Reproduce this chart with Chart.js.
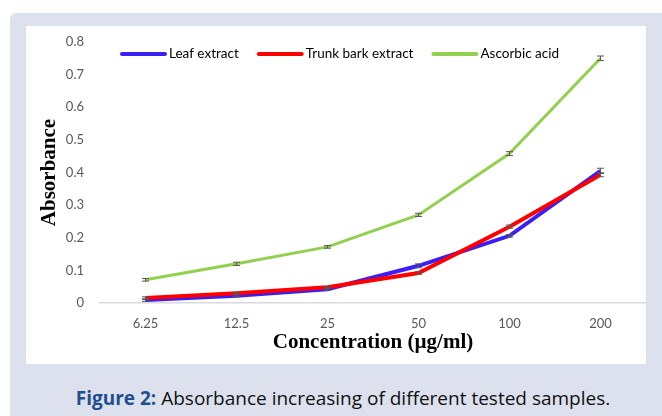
<!DOCTYPE html>
<html>
<head>
<meta charset="utf-8">
<script src="https://cdn.jsdelivr.net/npm/chart.js@4"></script>
<style>
  body { margin: 0; background: #fff; width: 662px; height: 416px; overflow: hidden; position: relative; }
  .panel { position: absolute; left: 10px; top: 13px; width: 680px; height: 420px; background: #dde1ee; border-radius: 6px; }
  .box { position: absolute; left: 26px; top: 26px; width: 620px; height: 338px; background: #fff; }
  .caption { position: absolute; left: 17px; width: 652px; top: 385px; line-height: 26px; text-align: center; font-family: "Open Sans", sans-serif; font-size: 19px; color: #111; }
  .caption b { color: #1f4f8f; }
</style>
</head>
<body>
<div class="panel"></div>
<div class="box"><canvas id="myChart" width="620" height="338"></canvas></div>
<div class="caption"><b>Figure 2:</b> Absorbance increasing of different tested samples.</div>
<script>
const concentrations = ['6.25', '12.5', '25', '50', '100', '200'];
const leafExtract = [0.009, 0.022, 0.042, 0.114, 0.206, 0.405];
const trunkBark = [0.015, 0.030, 0.048, 0.092, 0.234, 0.393];
const ascorbicAcid = [0.071, 0.120, 0.172, 0.270, 0.458, 0.750];
const leafErr = [0.004, 0.003, 0.003, 0.006, 0.004, 0.008];
const trunkErr = [0.004, 0.003, 0.003, 0.004, 0.005, 0.006];
const ascorbicErr = [0.004, 0.005, 0.004, 0.005, 0.006, 0.007];

// error bars on top of the lines
const errorBars = {
    id: 'errorBars',
    afterDatasetsDraw(chart) {
        const ctx = chart.ctx;
        const y = chart.scales.y;
        ctx.save();
        ctx.strokeStyle = '#595959';
        ctx.lineWidth = 1;
        chart.data.datasets.forEach((ds, i) => {
            const meta = chart.getDatasetMeta(i);
            meta.data.forEach((pt, j) => {
                const top = y.getPixelForValue(ds.data[j] + ds.err[j]);
                const bot = y.getPixelForValue(ds.data[j] - ds.err[j]);
                ctx.beginPath();
                ctx.moveTo(pt.x, top); ctx.lineTo(pt.x, bot);
                ctx.moveTo(pt.x - 3.5, top); ctx.lineTo(pt.x + 3.5, top);
                ctx.moveTo(pt.x - 3.5, bot); ctx.lineTo(pt.x + 3.5, bot);
                ctx.stroke();
            });
        });
        ctx.restore();
    }
};

// legend drawn inside the plot, like the original
const lineLegend = {
    id: 'lineLegend',
    afterDraw(chart) {
        const ctx = chart.ctx;
        let x = 96;
        const yMid = 28;
        ctx.save();
        ctx.font = '13.5px Lato';
        ctx.textBaseline = 'middle';
        chart.data.datasets.forEach((ds) => {
            ctx.strokeStyle = ds.borderColor;
            ctx.lineWidth = 4;
            ctx.lineCap = 'round';
            ctx.beginPath();
            ctx.moveTo(x, yMid); ctx.lineTo(x + 43, yMid);
            ctx.stroke();
            ctx.fillStyle = '#000';
            ctx.fillText(ds.label, x + 47, yMid);
            x += 47 + ctx.measureText(ds.label).width + 20;
        });
        ctx.restore();
    }
};

const data = {
    labels: concentrations,
    datasets: [
        { label: 'Leaf extract', data: leafExtract, err: leafErr, borderColor: '#3a1ef5', borderWidth: 4, order: 3 },
        { label: 'Trunk bark extract', data: trunkBark, err: trunkErr, borderColor: '#ff0000', borderWidth: 4, order: 2 },
        { label: 'Ascorbic acid', data: ascorbicAcid, err: ascorbicErr, borderColor: '#92d050', borderWidth: 3, order: 1 }
    ]
};

const config = {
    type: 'line',
    data: data,
    plugins: [errorBars, lineLegend],
    options: {
        responsive: false,
        animation: false,
        elements: { point: { radius: 0 }, line: { tension: 0 } },
        layout: { padding: { top: 16, right: 0, left: 0, bottom: 0 } },
        plugins: { legend: { display: false }, tooltip: { enabled: false } },
        scales: {
            x: {
                offset: true,
                grid: { display: false, drawTicks: false },
                border: { display: true, color: '#d9d9d9', width: 1.5 },
                ticks: { color: '#595959', font: { family: 'Lato', size: 13 }, padding: 13, maxRotation: 0 },
                title: { display: true, text: 'Concentration (µg/ml)', color: '#000', font: { family: 'Liberation Serif', size: 21, weight: 'bold' }, padding: { top: 0, bottom: 9 } },
                afterFit(scale) { scale.height = 61; scale.paddingLeft = 0; scale.paddingRight = 0; }
            },
            y: {
                min: 0,
                max: 0.8,
                grid: { display: false, drawTicks: false },
                border: { display: false },
                ticks: { stepSize: 0.1, color: '#595959', font: { family: 'Lato', size: 13 }, padding: 16,
                    callback: (v) => v === 0 ? '0' : v.toFixed(1) },
                title: { display: true, text: 'Absorbance', color: '#000', font: { family: 'Liberation Serif', size: 21, weight: 'bold' }, padding: { top: 11, bottom: 0 } },
                afterFit(scale) { scale.width = 74; scale.paddingTop = 0; scale.paddingBottom = 0; }
            }
        }
    }
};

let myChart = new Chart(document.getElementById('myChart'), config);
</script>
</body>
</html>
